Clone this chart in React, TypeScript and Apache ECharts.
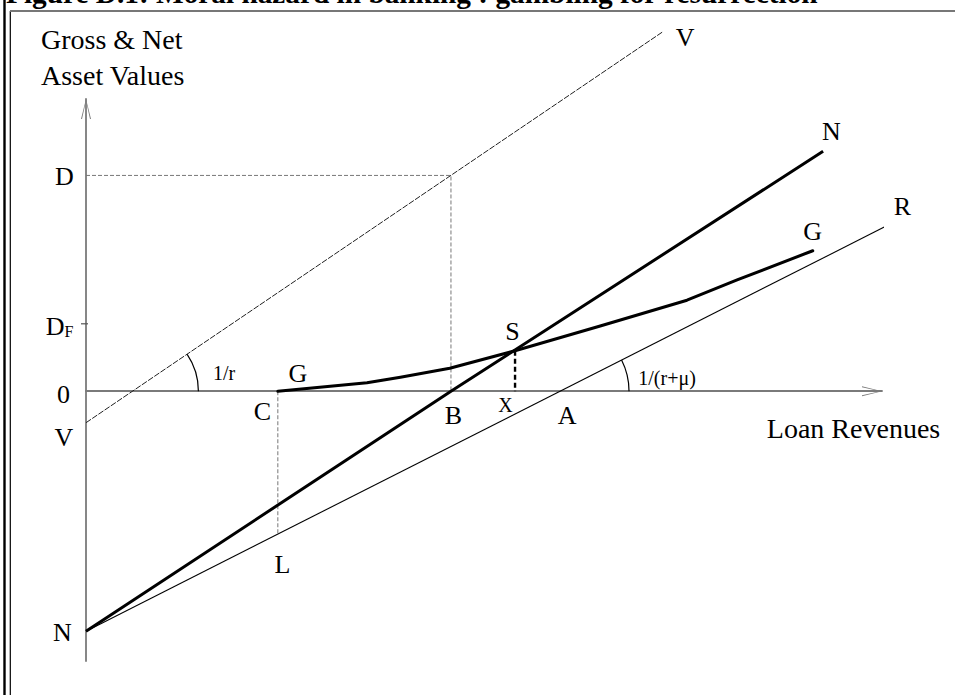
import React, { useEffect, useRef } from 'react';
import * as echarts from 'echarts';

// ---------- texts ----------
const TITLE = 'Figure D.1: Moral hazard in banking : gambling for resurrection';
const Y_AXIS_TITLE = ['Gross & Net', 'Asset Values'];
const X_AXIS_TITLE = 'Loan Revenues';

// ---------- key values (arbitrary units) ----------
const D_LEVEL = 38.4;      // D
const DF_LEVEL = 12;       // D_F
const V_INTERCEPT = -5.6;  // V on the vertical axis
const N_INTERCEPT = -42.7; // N on the vertical axis
const C_X = 24.1;          // C
const B_X = 45.85;         // B
const S_X = 53.9;          // S / X
const S_Y = 7.2;
const A_X = 59.55;         // A
const V_ZERO_X = 5.83;     // where V crosses the revenue axis
const L_Y = -25.4;         // L

// ---------- lines ----------
const lineV = [[0, V_INTERCEPT], [72.5, 64]];
const lineR = [[0, N_INTERCEPT], [102.5, 30.8]];
const lineN = [[0, N_INTERCEPT], [B_X, 0], [92.6, 42.7]];
const curveG = [
  [24.1, 0], [35.3, 1.5], [39.5, 2.5], [45.7, 4.1], [53.9, 7.2],
  [64.6, 11.6], [75.5, 16.2], [81.8, 19.8], [91.3, 25.0],
];
const guideD = [[0, D_LEVEL], [B_X, D_LEVEL], [B_X, 0]];
const guideC = [[C_X, 0], [C_X, L_Y]];
const guideX = [[S_X, S_Y], [S_X, 0]];

// angle arcs: [centre x, centre y, point-on-line x, point-on-line y]
const angleArcs = [
  [V_ZERO_X, 0, 72.5, 64],
  [A_X, 0, 102.5, 30.8],
];

// ---------- annotations: text, anchor point ----------
const annotations: { text: string; at: number[] }[] = [
  { text: 'D', at: [0, D_LEVEL] },
  { text: '{d|D}{f|F}', at: [0, DF_LEVEL] },
  { text: '0', at: [0, 0] },
  { text: 'V', at: [0, V_INTERCEPT] },
  { text: 'N', at: [0, N_INTERCEPT] },
  { text: 'G', at: [C_X, 0] },
  { text: 'C', at: [C_X, 0] },
  { text: 'B', at: [B_X, 0] },
  { text: 'X', at: [S_X, 0] },
  { text: 'A', at: [A_X, 0] },
  { text: 'S', at: [S_X, S_Y] },
  { text: 'L', at: [C_X, L_Y] },
  { text: 'N', at: [92.6, 42.7] },
  { text: 'G', at: [91.3, 25.0] },
  { text: 'R', at: [102.5, 30.8] },
  { text: 'V', at: [72.5, 64] },
  { text: '1/r', at: [V_ZERO_X, 0] },
  { text: '1/(r+μ)', at: [A_X, 0] },
];

// layout of the annotation texts (pixel offsets / font sizes)
const LABEL_OFFSETS = [
  [-21.5, 1], [-26.5, 2.7], [-22.5, 2.8], [-22, 14.8], [-23.5, 1.3],
  [20, -17.7], [-15.3, 19.8], [2.5, 23.8], [-9.5, 13.8], [7, 24.3],
  [-2.5, -19.3], [4.7, 30.5], [8.4, -19.8], [0, -19.7], [0.6, -11.6],
  [22, 6.4], [91.6, -18.7], [107, -13.2],
];
const LABEL_SIZES = [26, 26, 26, 26, 26, 26, 26, 26, 20, 26, 26, 26, 26, 26, 26, 26, 20, 20];
const ARC_RADII = [66, 69];

const FONT = 'Liberation Serif';
const AXIS_COLOR = '#7a7a7a';
const ARROW = 'path://M5,0 L10,20 L9,20 L5,2 L1,20 L0,20 Z';

export default function App() {
  const ref = useRef<HTMLDivElement>(null);

  useEffect(() => {
    if (!ref.current) return;
    const chart = echarts.init(ref.current, null, { renderer: 'svg' });

    const lineSeries = (data: number[][], style: any, z = 2) => ({
      type: 'line',
      data,
      symbol: 'none',
      clip: false,
      silent: true,
      z,
      lineStyle: style,
    });

    chart.setOption({
      animation: false,
      backgroundColor: '#ffffff',
      textStyle: { fontFamily: FONT },
      grid: { left: 86, right: 73, top: 99, bottom: 34, containLabel: false, outerBoundsMode: 'none' },
      xAxis: {
        type: 'value',
        min: 0,
        max: 100,
        axisLine: {
          show: true,
          onZero: true,
          lineStyle: { color: AXIS_COLOR, width: 1.8 },
          symbol: ['none', ARROW],
          symbolSize: [10, 20],
          symbolOffset: [0, -10],
        },
        axisTick: { show: false },
        axisLabel: { show: false },
        splitLine: { show: false },
      },
      yAxis: {
        type: 'value',
        min: -48,
        max: 52,
        axisLine: {
          show: true,
          lineStyle: { color: AXIS_COLOR, width: 1.8 },
          symbol: ['none', ARROW],
          symbolSize: [10, 20],
          symbolOffset: [0, -10],
        },
        axisTick: { show: false },
        axisLabel: { show: false },
        splitLine: { show: false },
      },
      graphic: [
        { type: 'line', shape: { x1: 4.5, y1: 0, x2: 4.5, y2: 695 }, style: { stroke: '#000', lineWidth: 2.4 } },
        { type: 'line', shape: { x1: 10.3, y1: 11, x2: 10.3, y2: 695 }, style: { stroke: '#000', lineWidth: 1.2 } },
        { type: 'line', shape: { x1: 10, y1: 11, x2: 955, y2: 11 }, style: { stroke: '#777', lineWidth: 2 } },
        {
          type: 'text', x: 6, y: -7,
          style: { text: TITLE, font: `bold 29.3px "${FONT}"`, fill: '#000', verticalAlign: 'middle' },
        },
        {
          type: 'text', x: 41, y: 39,
          style: { text: Y_AXIS_TITLE[0], font: `28px "${FONT}"`, fill: '#000', verticalAlign: 'middle' },
        },
        {
          type: 'text', x: 41, y: 75,
          style: { text: Y_AXIS_TITLE[1], font: `28px "${FONT}"`, fill: '#000', verticalAlign: 'middle' },
        },
        {
          type: 'text', x: 853.5, y: 428,
          style: { text: X_AXIS_TITLE, font: `28px "${FONT}"`, fill: '#000', align: 'center', verticalAlign: 'middle' },
        },
      ],
      series: [
        lineSeries(lineV, { color: '#222', width: 1, type: [6, 1.5] }),
        lineSeries(lineR, { color: '#000', width: 1.1 }),
        lineSeries(guideD, { color: '#777', width: 1, type: [4, 2] }),
        lineSeries(guideC, { color: '#777', width: 1, type: [4, 2] }),
        lineSeries(guideX, { color: '#000', width: 2.4, type: [5, 3] }),
        lineSeries(lineN, { color: '#000', width: 3 }, 3),
        lineSeries(curveG, { color: '#000', width: 3, cap: 'round', join: 'round' }, 3),
        {
          type: 'custom',
          coordinateSystem: 'cartesian2d',
          silent: true,
          clip: false,
          data: angleArcs,
          renderItem: (params: any, api: any) => {
            const c = api.coord([api.value(0), api.value(1)]);
            const p = api.coord([api.value(2), api.value(3)]);
            const ang = Math.atan2(c[1] - p[1], p[0] - c[0]);
            return {
              type: 'arc',
              shape: { cx: c[0], cy: c[1], r: ARC_RADII[params.dataIndex], startAngle: -ang, endAngle: 0, clockwise: true },
              style: { stroke: '#000', fill: 'none', lineWidth: 1.2 },
            };
          },
        },
        {
          type: 'custom',
          coordinateSystem: 'cartesian2d',
          silent: true,
          clip: false,
          data: [[0, DF_LEVEL]],
          renderItem: (params: any, api: any) => {
            const c = api.coord([api.value(0), api.value(1)]);
            return {
              type: 'line',
              shape: { x1: c[0] - 5, y1: c[1], x2: c[0] + 2, y2: c[1] },
              style: { stroke: '#555', lineWidth: 1.2 },
            };
          },
        },
        {
          type: 'scatter',
          silent: true,
          clip: false,
          symbolSize: 1,
          itemStyle: { color: 'rgba(0,0,0,0)' },
          z: 5,
          data: annotations.map((a, i) => ({
            value: a.at,
            label: {
              show: true,
              position: 'inside',
              formatter: a.text,
              offset: LABEL_OFFSETS[i],
              fontSize: LABEL_SIZES[i],
              fontFamily: FONT,
              color: '#000',
              opacity: 1,
              rich: {
                d: { fontSize: 26, fontFamily: FONT, color: '#000' },
                f: { fontSize: 16, fontFamily: FONT, color: '#000', verticalAlign: 'bottom' },
              },
            },
          })),
        },
      ],
    });

    return () => chart.dispose();
  }, []);

  return (
    <div
      ref={ref}
      style={{ position: 'absolute', left: 0, top: 0, width: 955, height: 695, background: '#fff' }}
    />
  );
}
